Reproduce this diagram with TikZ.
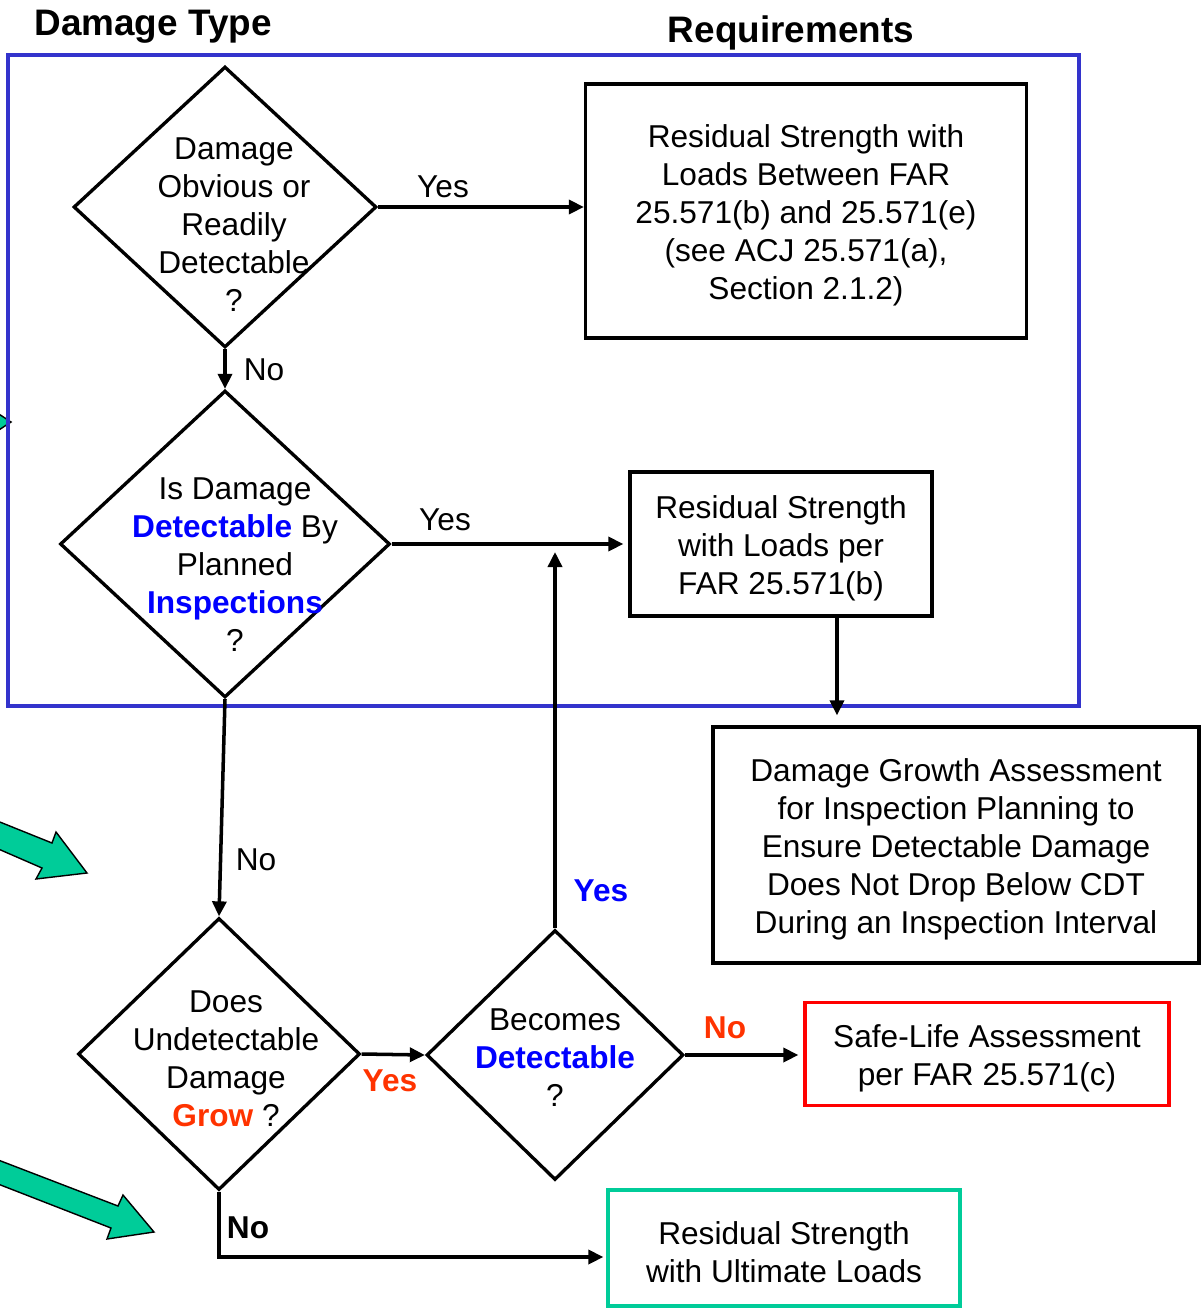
\documentclass[tikz,border=0pt]{standalone}
\usepackage{fontspec}
\setmainfont{Liberation Sans}
\usepackage{xcolor}
\usetikzlibrary{shapes.geometric,arrows.meta}
\definecolor{frameblue}{RGB}{51,51,204}
\definecolor{txtblue}{RGB}{0,0,255}
\definecolor{hotorange}{RGB}{255,51,0}
\definecolor{boxred}{RGB}{255,0,0}
\definecolor{boxgreen}{RGB}{0,204,153}
\newcommand{\boxstrut}{\rule{0pt}{17.6pt}}

\begin{document}
\begin{tikzpicture}[
    x=0.02cm, y=-0.02cm,
    every node/.style={font=\fontsize{18}{21.6}\selectfont},
    box/.style={rectangle, draw=black, line width=1.9pt, align=center, inner sep=0pt},
    decision/.style={diamond, draw=black, line width=1.9pt, inner sep=0pt},
    qtext/.style={align=center, inner sep=0pt},
    arrow/.style={-{Triangle[length=0.3cm, width=0.28cm]}, line width=2pt},
    heading/.style={inner sep=0pt, font=\fontsize{21}{25}\selectfont\bfseries},
    answer/.style={inner sep=0pt},
    boldanswer/.style={inner sep=0pt, font=\fontsize{18}{21.6}\selectfont\bfseries},
    fatarrow/.style={draw=black, fill=boxgreen, line width=0.8pt, line join=miter}
]
\useasboundingbox (0,0) rectangle (1203,1309);

% Green pointers (cut by the page edge)
\begin{scope}
\clip (0,0) rectangle (1203,1309);
\draw[fatarrow] (11,422) -- (-30,395) -- (-30,449) -- cycle;
\draw[fatarrow] (-20,814) -- (52,843) -- (56,832) -- (87,873) -- (36,879) -- (42,868) -- (-20,841) -- cycle;
\draw[fatarrow] (-20,1153) -- (118,1206) -- (123,1195) -- (154,1232) -- (107,1239) -- (111,1228) -- (-20,1177) -- cycle;
\end{scope}

% Frame
\draw[frameblue, line width=2.3pt] (8,55) rectangle (1079,706);

% Headings
\node[heading] (htype) at (153,27) {Damage Type};
\node[heading] (hreq) at (791,33) {Requirements};

% Decisions
\node[decision, minimum width=6.06cm, minimum height=5.62cm] (d1) at (225,207) {};
\node[decision, minimum width=6.6cm, minimum height=6.14cm] (d2) at (225,544) {};
\node[decision, minimum width=5.64cm, minimum height=5.44cm] (d3) at (219,1054) {};
\node[decision, minimum width=5.14cm, minimum height=5cm] (d4) at (555,1055) {};

\node[qtext] (q1) at (234,225) {Damage\\Obvious or\\Readily\\Detectable\\?};
\node[qtext] (q2) at (235,565) {Is Damage\\\textcolor{txtblue}{\bfseries Detectable} By\\Planned\\\textcolor{txtblue}{\bfseries Inspections}\\?};
\node[qtext] (q3) at (226,1059) {Does\\Undetectable\\Damage\\\textcolor{hotorange}{\bfseries Grow} ?};
\node[qtext] (q4) at (555,1058) {Becomes\\\textcolor{txtblue}{\bfseries Detectable}\\?};

% Requirements
\node[box, minimum width=8.82cm, minimum height=5.08cm] (r1) at (806,211) {\boxstrut Residual Strength with\\Loads Between FAR\\25.571(b) and 25.571(e)\\(see ACJ 25.571(a),\\Section 2.1.2)};
\node[box, minimum width=6.04cm, minimum height=2.88cm] (r2) at (781,544) {\boxstrut Residual Strength\\with Loads per\\FAR 25.571(b)};
\node[box, minimum width=9.72cm, minimum height=4.72cm] (r3) at (956,845) {\boxstrut Damage Growth Assessment\\for Inspection Planning to\\Ensure Detectable Damage\\Does Not Drop Below CDT\\During an Inspection Interval};
\node[box, draw=boxred, minimum width=7.28cm, minimum height=2.06cm] (r4) at (987,1054) {\boxstrut Safe-Life Assessment\\per FAR 25.571(c)};
\node[box, draw=boxgreen, minimum width=7.04cm, minimum height=2.32cm] (r5) at (784,1248) {\boxstrut Residual Strength\\with Ultimate Loads};

% Arrows
\draw[arrow] (d1.east) -- (d1.east -| r1.west);
\draw[arrow] (d1.south) -- (d2.north);
\draw[arrow, shorten >=0.1cm] (d2.east) -- (d2.east -| r2.west);
\draw[arrow, shorten >=0.2cm] ([xshift=1.12cm]r2.south) -- ([xshift=1.12cm]r2.south |- r3.north);
\draw[arrow] (d2.south) -- (d3.north);
\draw[arrow] (d3.east) -- (d4.west);
\draw[arrow, shorten >=0.16cm] (d4.north) -- (d4.north |- d2.east);
\draw[arrow, shorten >=0.1cm] (d4.east) -- (d4.east -| r4.west);
\draw[arrow, shorten >=0.06cm] (d3.south) |- ([yshift=-0.18cm]r5.west);

% Labels
\node[answer] (l1) at (443,187) {Yes};
\node[answer] (l2) at (264,370) {No};
\node[answer] (l3) at (445,520) {Yes};
\node[answer] (l4) at (256,860) {No};
\node[boldanswer, hotorange] (l5) at (390,1081) {Yes};
\node[boldanswer, txtblue] (l6) at (601,891) {Yes};
\node[boldanswer, hotorange] (l7) at (725,1028) {No};
\node[boldanswer] (l8) at (248,1228) {No};

\end{tikzpicture}
\end{document}
